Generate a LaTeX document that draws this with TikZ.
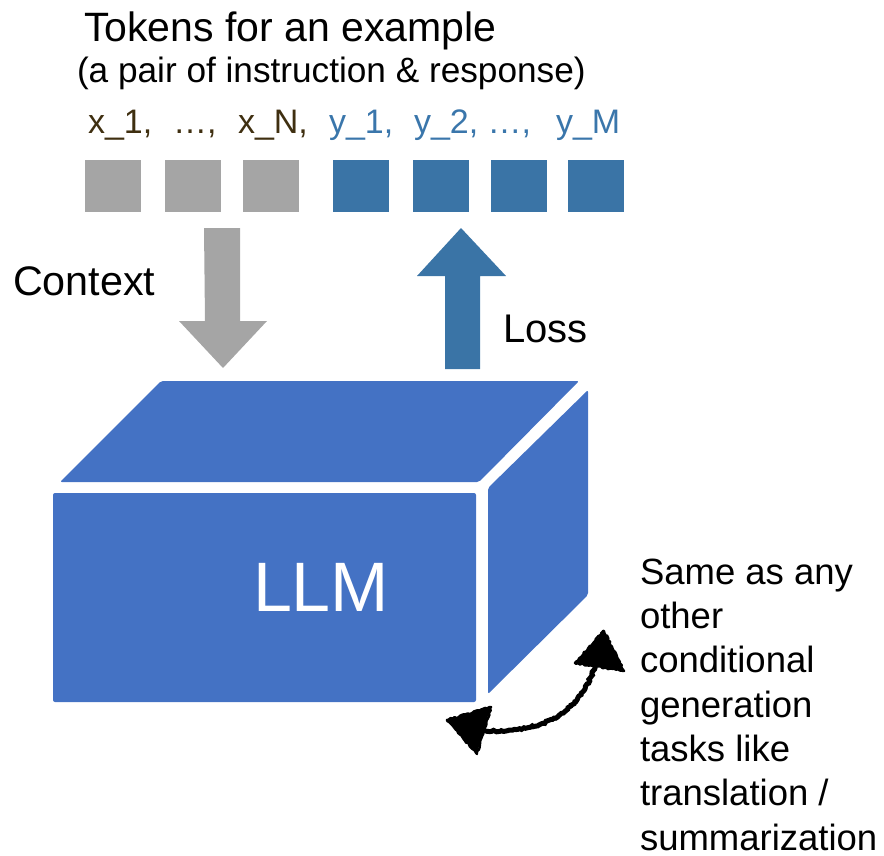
\documentclass[tikz,border=0pt]{standalone}
\usepackage{fontspec}
\setmainfont{Liberation Sans}
\usetikzlibrary{decorations.pathmorphing}

\definecolor{tokgray}{HTML}{A5A5A5}
\definecolor{tokblue}{HTML}{3A74A6}
\definecolor{llmblue}{HTML}{4472C4}
\definecolor{xbrown}{HTML}{3F2F10}
\definecolor{yblue}{HTML}{3A76AB}

\begin{document}
\begin{tikzpicture}[x=1pt,y=-1pt,
  txt/.style={anchor=base west, inner sep=0pt, outer sep=0pt},
  tok/.style={txt, font=\fontsize{34}{40}\selectfont},
  token/.style={minimum width=56pt, minimum height=52pt, inner sep=0pt, draw=none},
  face/.style={fill=llmblue, rounded corners=2pt},
  rough/.style={decorate, decoration={random steps, segment length=2pt, amplitude=0.8pt}},
]
\useasboundingbox (0,0) rectangle (884,856);

% title lines
\node[txt, font=\fontsize{41}{48}\selectfont] (title) at (84,42) {Tokens for an example};
\node[txt, font=\fontsize{35.2}{40}\selectfont] (subtitle) at (77,83) {(a pair of instruction \& response)};

% token labels
\node[tok, text=xbrown] (lx1) at (88,134) {x\_1,};
\node[tok, text=xbrown] (lxd) at (173,134) {…,};
\node[tok, text=xbrown] (lxn) at (238,134) {x\_N,};
\node[tok, text=yblue]  (ly1) at (329,134) {y\_1,};
\node[tok, text=yblue]  (ly2) at (414,134) {y\_2, …,};
\node[tok, text=yblue]  (lym) at (556,134) {y\_M};

% token squares
\foreach \n/\cx in {g1/113, g2/193, g3/271}
  \node[token, fill=tokgray] (\n) at (\cx,186) {};
\foreach \n/\cx in {b1/361, b2/441, b3/519, b4/596}
  \node[token, fill=tokblue] (\n) at (\cx,186) {};

% context arrow (down)
\fill[tokgray] (204,228) -- (240,228) -- (240,321) -- (267,321) -- (223,368)
  -- (179,321) -- (205,321) -- cycle;
\node[txt, font=\fontsize{41.3}{48}\selectfont] (context) at (13,295) {Context};

% loss arrow (up)
\fill[tokblue] (445,369) -- (445,276) -- (417,276) -- (461,228) -- (506,276)
  -- (480,276) -- (480,369) -- cycle;
\node[txt, font=\fontsize{40}{48}\selectfont] (loss) at (503,342) {Loss};

% the model as a box
\fill[face] (161,381) -- (579,381) -- (479,482) -- (60,482) -- cycle;
\fill[face] (488,488) -- (588,390) -- (588,595) -- (488,694) -- cycle;
\fill[face] (53,493) rectangle (476,702);
\node[txt, text=white, font=\fontsize{70}{80}\selectfont] (llm) at (253,611) {LLM};

% note on the right (anchored at the baseline of its last line)
\node[txt, align=left, font=\fontsize{36.5}{44.3}\selectfont] (note) at (640,850)
  {Same as any\\other\\conditional\\generation\\tasks like\\translation /\\summarization};

% hand-drawn double arrow
\coordinate (ca) at (486,731);
\coordinate (cb) at (596,662);
\draw[line width=5pt, line cap=round, rough] (ca) .. controls (545,733) and (582,712) .. (cb);
\fill[rough] (447,720) -- (491,707) -- (477,754) -- cycle;
\draw[rough, line width=2.5pt, line join=round] (447,720) -- (491,707) -- (477,754) -- cycle;
\fill[rough] (604,631) -- (624,671) -- (575,663) -- cycle;
\draw[rough, line width=2.5pt, line join=round] (604,631) -- (624,671) -- (575,663) -- cycle;
\end{tikzpicture}
\end{document}
